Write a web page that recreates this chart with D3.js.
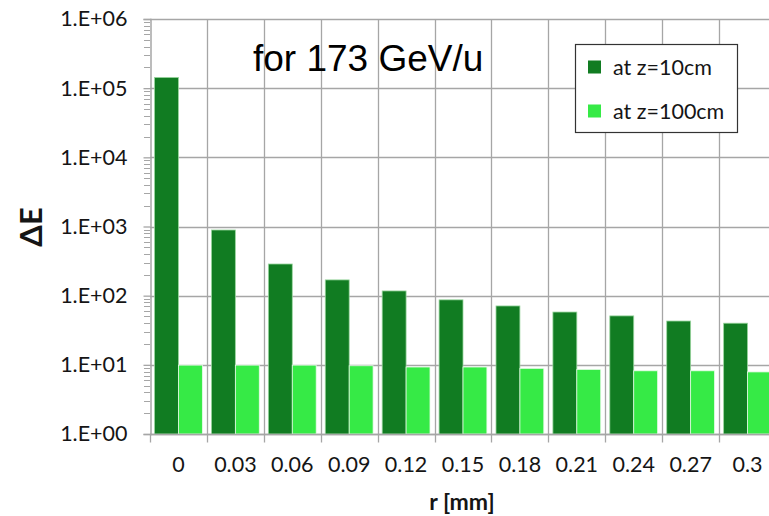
<!DOCTYPE html>
<html>
<head>
<meta charset="utf-8">
<script src="https://cdn.jsdelivr.net/npm/d3@7"></script>
<style>
  html, body { margin: 0; padding: 0; background: #fff; overflow: hidden; }
  svg { display: block; }
</style>
</head>
<body>
<svg id="chart" width="769" height="516"></svg>
<script>
// Radial positions (mm) and energy deposit at two depths
const radii = ["0", "0.03", "0.06", "0.09", "0.12", "0.15", "0.18", "0.21", "0.24", "0.27", "0.3"];
const dE_z10 = [143000, 890, 287, 169, 117, 87, 71, 58, 51, 43, 40];
const dE_z100 = [9.9, 9.9, 9.9, 9.7, 9.3, 9.3, 8.9, 8.6, 8.2, 8.2, 7.9];
const yTicks = [1, 10, 100, 1000, 10000, 100000, 1000000];
const seriesNames = ["at z=10cm", "at z=100cm"];
const seriesColors = ["#117c22", "#36ea46"];

(function () {
  const svg = d3.select("#chart");
  const plotL = 150, plotR = 776, plotT = 19, plotB = 434;

  const x = d3.scaleBand().domain(radii).range([plotL, plotR]).paddingInner(0).paddingOuter(0);
  const y = d3.scaleLog().domain([1, 1e6]).range([plotB, plotT]);
  const inner = d3.scaleBand().domain([0, 1]).range([0, x.bandwidth()]).paddingOuter(0.19).paddingInner(0);

  const labelFont = "Lato, 'Open Sans', sans-serif";
  const textColor = "#151515";
  const grid = "#a6a6a6";

  // horizontal gridlines at each decade
  svg.append("g").selectAll("line").data(yTicks).join("line")
    .attr("x1", plotL).attr("x2", plotR)
    .attr("y1", d => Math.round(y(d)) + 0.5).attr("y2", d => Math.round(y(d)) + 0.5)
    .attr("stroke", grid).attr("stroke-width", 1.3);

  // vertical gridlines at category boundaries
  const bounds = radii.map(r => x(r)).concat([plotR]);
  svg.append("g").selectAll("line").data(bounds.slice(1)).join("line")
    .attr("x1", d => Math.round(d) + 0.5).attr("x2", d => Math.round(d) + 0.5)
    .attr("y1", plotT).attr("y2", plotB)
    .attr("stroke", grid).attr("stroke-width", 1.3);

  // bars
  const series = [dE_z10, dE_z100];
  series.forEach((vals, si) => {
    svg.append("g").selectAll("rect").data(vals).join("rect")
      .attr("x", (d, i) => x(radii[i]) + inner(si))
      .attr("width", inner.bandwidth())
      .attr("y", d => y(d))
      .attr("height", d => y(1) - y(d))
      .attr("fill", seriesColors[si])
      .attr("stroke", si === 0 ? "#9ad69f" : "#e8fbe9")
      .attr("stroke-width", 0.8);
  });

  // y axis with minor ticks
  const minor = [];
  for (let e = 0; e < 6; e++) for (let m = 2; m <= 9; m++) minor.push(m * Math.pow(10, e));
  svg.append("g").selectAll("line").data(minor).join("line")
    .attr("x1", plotL - 6).attr("x2", plotL)
    .attr("y1", d => Math.round(y(d)) + 0.5).attr("y2", d => Math.round(y(d)) + 0.5)
    .attr("stroke", grid).attr("stroke-width", 1);

  const yAxis = d3.axisLeft(y).tickValues(yTicks).tickSize(7).tickPadding(16)
    .tickFormat(d => "1.E+" + String(Math.round(Math.log10(d))).padStart(2, "0"));
  const yg = svg.append("g").attr("transform", `translate(${plotL + 0.5},0)`).call(yAxis);
  yg.select(".domain").attr("stroke", grid).attr("stroke-width", 1.5);
  yg.selectAll(".tick line").attr("stroke", grid).attr("stroke-width", 1.3);
  yg.selectAll(".tick text").attr("font-family", labelFont).attr("font-size", 21.5).attr("fill", textColor);

  // x axis: ticks at category boundaries, labels centred in each band
  const xg = svg.append("g").attr("transform", `translate(0,${plotB + 0.5})`);
  xg.append("line").attr("x1", plotL).attr("x2", plotR).attr("stroke", grid).attr("stroke-width", 1.5);
  xg.selectAll(".bt").data(bounds).join("line").attr("class", "bt")
    .attr("x1", d => Math.round(d) + 0.5).attr("x2", d => Math.round(d) + 0.5)
    .attr("y1", 0).attr("y2", 8).attr("stroke", grid).attr("stroke-width", 1.3);
  const xAxis = d3.axisBottom(x).tickSize(0).tickPadding(23);
  const xa = svg.append("g").attr("transform", `translate(0,${plotB})`).call(xAxis);
  xa.select(".domain").remove();
  xa.selectAll(".tick text").attr("font-family", labelFont).attr("font-size", 21.5).attr("fill", textColor);

  // axis titles
  svg.append("text").attr("x", 462).attr("y", 510).attr("text-anchor", "middle")
    .attr("font-family", labelFont).attr("font-weight", "bold").attr("font-size", 23).attr("fill", textColor)
    .text("r [mm]");
  svg.append("text").attr("transform", "translate(42,227) rotate(-90)").attr("text-anchor", "middle")
    .attr("font-family", labelFont).attr("font-weight", "bold").attr("font-size", 31).attr("fill", textColor)
    .text("ΔE");

  // chart caption
  svg.append("text").attr("x", 253).attr("y", 71)
    .attr("font-family", "'Liberation Sans', Arial, sans-serif").attr("font-size", 37).attr("fill", "#000")
    .text("for 173 GeV/u");

  // legend
  const lg = svg.append("g");
  lg.append("rect").attr("x", 575.5).attr("y", 44.5).attr("width", 162).attr("height", 88)
    .attr("fill", "#fff").attr("stroke", "#333").attr("stroke-width", 1.2);
  seriesNames.forEach((name, i) => {
    const cy = 67 + i * 44;
    lg.append("rect").attr("x", 588).attr("y", cy - 6.5).attr("width", 13).attr("height", 13)
      .attr("fill", seriesColors[i]);
    lg.append("text").attr("x", 613).attr("y", cy).attr("dy", "0.35em")
      .attr("font-family", labelFont).attr("font-size", 21.5).attr("fill", textColor).text(name);
  });
})();
</script>
</body>
</html>
